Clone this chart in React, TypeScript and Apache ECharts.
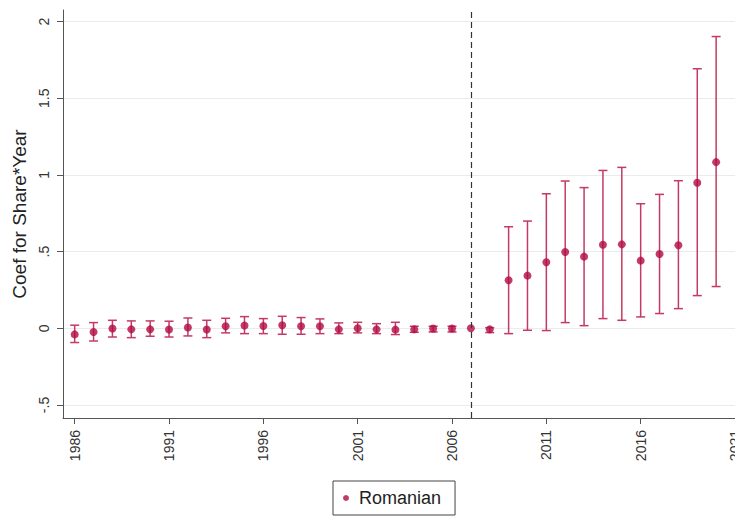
import React, { useEffect, useRef } from "react";
import * as echarts from "echarts";

// Event-study coefficients (Share x Year) with 95% confidence bounds
const years = [
  1986, 1987, 1988, 1989, 1990, 1991, 1992, 1993, 1994, 1995, 1996, 1997,
  1998, 1999, 2000, 2001, 2002, 2003, 2004, 2005, 2006, 2007, 2008, 2009,
  2010, 2011, 2012, 2013, 2014, 2015, 2016, 2017, 2018, 2019, 2020,
];
const coef = [
  -0.04, -0.024, -0.002, -0.007, -0.007, -0.008, 0.005, -0.008, 0.013, 0.018,
  0.015, 0.02, 0.013, 0.013, -0.007, 0.0, -0.007, -0.009, -0.007, -0.002,
  -0.002, 0.0, -0.007, 0.313, 0.343, 0.43, 0.497, 0.467, 0.545, 0.547, 0.441,
  0.484, 0.541, 0.949, 1.083,
];
const ciLow: (number | null)[] = [
  -0.093, -0.083, -0.057, -0.061, -0.052, -0.057, -0.05, -0.061, -0.03, -0.035,
  -0.035, -0.039, -0.039, -0.035, -0.035, -0.03, -0.035, -0.041, -0.026,
  -0.024, -0.024, null, -0.028, -0.035, -0.013, -0.015, 0.037, 0.017, 0.063,
  0.052, 0.074, 0.096, 0.128, 0.213, 0.272,
];
const ciHigh: (number | null)[] = [
  0.02, 0.037, 0.052, 0.048, 0.048, 0.046, 0.067, 0.052, 0.065, 0.076, 0.063,
  0.078, 0.07, 0.061, 0.035, 0.039, 0.03, 0.039, 0.013, 0.013, 0.013, null,
  0.004, 0.662, 0.699, 0.877, 0.96, 0.917, 1.029, 1.049, 0.812, 0.873, 0.962,
  1.692, 1.902,
];
const xTicks = [1986, 1991, 1996, 2001, 2006, 2011, 2016, 2021];
const yTicks = [-0.5, 0, 0.5, 1, 1.5, 2];
const refYear = 2007;
const seriesName = "Romanian";

const DOT = "#b30a42";
const BAR = "#c33b63";
const AXIS = "#555555";
const TEXT = "#333333";
const FONT = "'Liberation Sans', Arial, sans-serif";

const fmtY = (v: number) => {
  const s = String(Math.round(v * 100) / 100);
  return s.replace(/^(-?)0\./, "$1.");
};

export default function App() {
  const ref = useRef<HTMLDivElement>(null);

  useEffect(() => {
    if (!ref.current) return;
    const chart = echarts.init(ref.current, null, { renderer: "svg" });

    const points = years.map((y, i) => [y, coef[i]]);
    const intervals = years
      .map((y, i) => [y, ciLow[i], ciHigh[i]])
      .filter((d) => d[1] !== null && d[2] !== null);

    chart.setOption({
      animation: false,
      backgroundColor: "#ffffff",
      textStyle: { fontFamily: FONT },
      grid: {
        left: 63,
        top: 10,
        width: 672,
        height: 408,
        containLabel: false,
        outerBoundsMode: "none",
      },
      legend: {
        data: [seriesName],
        left: 333,
        top: 481,
        orient: "horizontal",
        icon: "circle",
        itemWidth: 6,
        itemHeight: 6,
        padding: [8, 14, 8, 10],
        borderColor: "#444444",
        borderWidth: 1,
        borderRadius: 0,
        selectedMode: false,
        textStyle: {
          fontFamily: FONT,
          fontSize: 18,
          color: "#222222",
          padding: [0, 0, 0, 5],
        },
      },
      xAxis: {
        type: "value",
        min: 1985.38,
        max: 2021,
        axisLine: { show: true, onZero: false, lineStyle: { color: AXIS, width: 1 } },
        axisTick: {
          show: true,
          length: 6,
          customValues: xTicks,
          lineStyle: { color: AXIS },
        },
        axisLabel: {
          customValues: xTicks,
          rotate: 90,
          margin: 12,
          fontSize: 14,
          color: TEXT,
          fontFamily: FONT,
          hideOverlap: false,
          formatter: (v: number) => String(v),
        },
        splitLine: { show: false },
      },
      yAxis: {
        type: "value",
        min: -0.585,
        max: 2.075,
        name: "Coef for Share*Year",
        nameLocation: "middle",
        nameGap: 31,
        nameTextStyle: { fontSize: 19, color: "#222222", fontFamily: FONT },
        axisLine: { show: true, onZero: false, lineStyle: { color: AXIS, width: 1 } },
        axisTick: {
          show: true,
          length: 6,
          customValues: yTicks,
          lineStyle: { color: AXIS },
        },
        axisLabel: {
          customValues: yTicks,
          rotate: 90,
          margin: 12,
          fontSize: 14,
          color: TEXT,
          fontFamily: FONT,
          formatter: fmtY,
        },
        splitLine: { show: true, lineStyle: { color: "#ebebeb", width: 1 } },
      },
      series: [
        {
          name: "ci",
          type: "custom",
          data: intervals,
          encode: { x: 0, y: [1, 2] },
          silent: true,
          z: 2,
          renderItem: (params: any, api: any) => {
            const x = api.value(0);
            const lo = api.coord([x, api.value(1)]);
            const hi = api.coord([x, api.value(2)]);
            const w = 4.5;
            const style = { stroke: BAR, lineWidth: 1.5 };
            return {
              type: "group",
              children: [
                { type: "line", shape: { x1: lo[0], y1: lo[1], x2: hi[0], y2: hi[1] }, style },
                { type: "line", shape: { x1: lo[0] - w, y1: lo[1], x2: lo[0] + w, y2: lo[1] }, style },
                { type: "line", shape: { x1: hi[0] - w, y1: hi[1], x2: hi[0] + w, y2: hi[1] }, style },
              ],
            };
          },
        },
        {
          name: seriesName,
          type: "scatter",
          data: points,
          symbol: "circle",
          symbolSize: 8,
          itemStyle: { color: DOT },
          z: 3,
          markLine: {
            silent: true,
            symbol: ["none", "none"],
            label: { show: false },
            lineStyle: { color: "#333333", type: [6, 4], width: 1.2 },
            data: [{ xAxis: refYear }],
          },
        },
      ],
    });

    return () => chart.dispose();
  }, []);

  return (
    <div
      ref={ref}
      style={{ position: "absolute", left: 0, top: 0, width: 735, height: 516, background: "#fff" }}
    />
  );
}
